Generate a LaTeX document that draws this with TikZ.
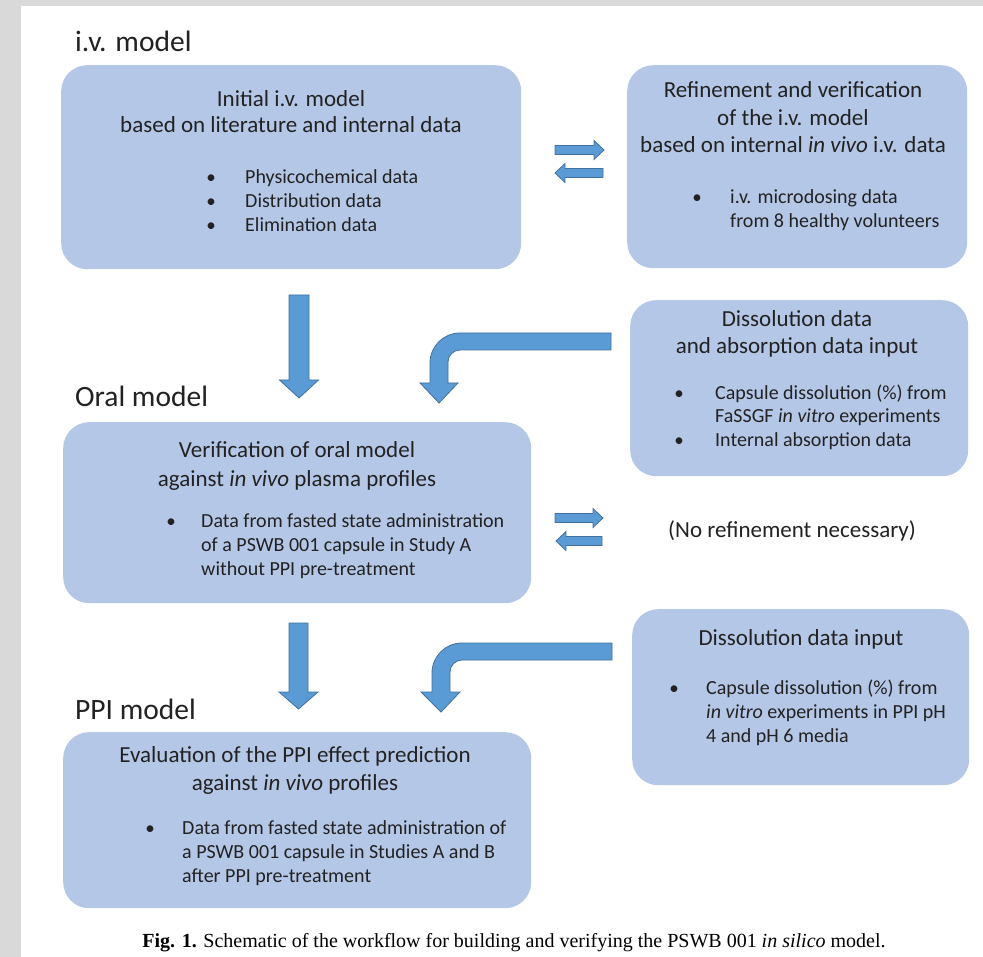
\documentclass[tikz,border=0pt]{standalone}
\usepackage{fontspec}
\setmainfont{Carlito}
\newfontfamily\capfont{Liberation Serif}
\definecolor{boxblue}{HTML}{B4C7E7}
\definecolor{arrowblue}{HTML}{5B9BD5}
\definecolor{arrowedge}{HTML}{41719C}
\definecolor{graybg}{HTML}{D9D9D9}
\definecolor{txt}{HTML}{222222}
\begin{document}
\begin{tikzpicture}[x=1pt,y=-1pt,
  box/.style={fill=boxblue, draw=none, rounded corners=26pt, anchor=north west, inner sep=0pt},
  barrow/.style={fill=arrowblue, draw=arrowedge, line width=0.8pt, line join=miter},
  hdr/.style={font=\fontsize{29.5}{33}\selectfont, text=txt, anchor=base west, inner sep=0pt},
  ttl/.style={font=\fontsize{23}{27}\selectfont, text=txt, anchor=base, inner sep=0pt},
  itm/.style={font=\fontsize{20}{24}\selectfont, text=txt, anchor=base west, inner sep=0pt},
  bul/.style={font=\fontsize{19}{24}\selectfont, text=txt, anchor=base, inner sep=0pt}]
\useasboundingbox (0,0) rectangle (983,957);
\fill[white] (0,0) rectangle (983,957);
\fill[graybg] (0,0) rectangle (983,6);
\fill[graybg] (0,0) rectangle (21,957);

% boxes
\node[box, minimum width=460pt, minimum height=204pt] (b1) at (61,65) {};
\node[box, minimum width=340pt, minimum height=203pt] (b2) at (627,65) {};
\node[box, minimum width=338pt, minimum height=176pt] (b3) at (630,300) {};
\node[box, minimum width=468pt, minimum height=181pt] (b4) at (63,422) {};
\node[box, minimum width=337pt, minimum height=176pt] (b5) at (632,609) {};
\node[box, minimum width=468pt, minimum height=176pt] (b6) at (63,732) {};

% headers
\node[hdr] (h1) at (75,52) {i.v. model};
\node[hdr] (h2) at (75,407) {Oral model};
\node[hdr] (h3) at (75,719) {PPI model};

% box 1
\node[ttl] (t1a) at (291,107) {Initial i.v. model};
\node[ttl] (t1b) at (291,133) {based on literature and internal data};
\node[bul] (u1a) at (211,184) {•};
\node[bul] (u1b) at (211,208) {•};
\node[bul] (u1c) at (211,232) {•};
\node[itm] (i1a) at (245,184) {Physicochemical data};
\node[itm] (i1b) at (245,208) {Distribution data};
\node[itm] (i1c) at (245,232) {Elimination data};

% box 2
\node[ttl] (t2a) at (793,98) {Refinement and verification};
\node[ttl] (t2b) at (793,126) {of the i.v. model};
\node[ttl] (t2c) at (793,153) {based on internal \textit{in vivo} i.v. data};
\node[bul] (u2a) at (697,204) {•};
\node[itm] (i2a) at (730,204) {i.v. microdosing data};
\node[itm] (i2b) at (730,228) {from 8 healthy volunteers};

% box 3
\node[ttl] (t3a) at (797,327) {Dissolution data};
\node[ttl] (t3b) at (797,354) {and absorption data input};
\node[bul] (u3a) at (679,400) {•};
\node[bul] (u3b) at (679,447) {•};
\node[itm] (i3a) at (715,400) {Capsule dissolution (\%) from};
\node[itm] (i3b) at (715,423) {FaSSGF \textit{in vitro} experiments};
\node[itm] (i3c) at (715,447) {Internal absorption data};

% box 4
\node[ttl] (t4a) at (297,457) {Verification of oral model};
\node[ttl] (t4b) at (297,486) {against \textit{in vivo} plasma profiles};
\node[bul] (u4a) at (171,527) {•};
\node[itm] (i4a) at (201,527) {Data from fasted state administration};
\node[itm] (i4b) at (201,551) {of a PSWB 001 capsule in Study A};
\node[itm] (i4c) at (201,575) {without PPI pre-treatment};

% no refinement
\node[ttl] (nr) at (792,537) {(No refinement necessary)};

% box 5
\node[ttl] (t5a) at (801,645) {Dissolution data input};
\node[bul] (u5a) at (674,694) {•};
\node[itm] (i5a) at (706,694) {Capsule dissolution (\%) from};
\node[itm] (i5b) at (706,718) {\textit{in vitro} experiments in PPI pH};
\node[itm] (i5c) at (706,742) {4 and pH 6 media};

% box 6
\node[ttl] (t6a) at (295,762) {Evaluation of the PPI effect prediction};
\node[ttl] (t6b) at (295,790) {against \textit{in vivo} profiles};
\node[bul] (u6a) at (150,834) {•};
\node[itm] (i6a) at (182,834) {Data from fasted state administration of};
\node[itm] (i6b) at (182,858) {a PSWB 001 capsule in Studies A and B};
\node[itm] (i6c) at (182,882) {after PPI pre-treatment};

% caption
\node[font=\capfont\fontsize{20}{24}\selectfont, anchor=base, inner sep=0pt] (cap) at (514,947)
  {\textbf{Fig. 1.} Schematic of the workflow for building and verifying the PSWB 001 \textit{in silico} model.};

% double arrows 1
\draw[barrow] (555,145.5) -- (594,145.5) -- (594,140.5) -- (604,150) -- (594,159.5) -- (594,154.5) -- (555,154.5) -- cycle;
\draw[barrow] (603,168.5) -- (565,168.5) -- (565,163.5) -- (555,173) -- (565,182.5) -- (565,177.5) -- (603,177.5) -- cycle;
% double arrows 2
\draw[barrow] (555,513.5) -- (593,513.5) -- (593,508.5) -- (603,518) -- (593,527.5) -- (593,522.5) -- (555,522.5) -- cycle;
\draw[barrow] (602,536.5) -- (566,536.5) -- (566,531.5) -- (556,541) -- (566,550.5) -- (566,545.5) -- (602,545.5) -- cycle;

% down arrows
\draw[barrow] (289,295) -- (309,295) -- (309,380) -- (318.5,380) -- (299,398) -- (279.5,380) -- (289,380) -- cycle;
\draw[barrow] (289,623) -- (308,623) -- (308,692) -- (318,692) -- (298.5,709) -- (279,692) -- (289,692) -- cycle;

% bent arrows
\draw[barrow] (611,333) -- (460,333) .. controls (443.4,333) and (430,346.4) .. (430,363)
  -- (430,383) -- (420,383) -- (439,403) -- (458,383) -- (448,383) -- (448,362)
  .. controls (448,355.4) and (453.4,350) .. (460,350) -- (611,350) -- cycle;
\draw[barrow] (612,643) -- (462,643) .. controls (445.4,643) and (432,656.4) .. (432,673)
  -- (432,692) -- (421,692) -- (441,712) -- (460,692) -- (450,692) -- (450,672)
  .. controls (450,665.4) and (455.4,660) .. (462,660) -- (612,660) -- cycle;
\end{tikzpicture}
\end{document}
